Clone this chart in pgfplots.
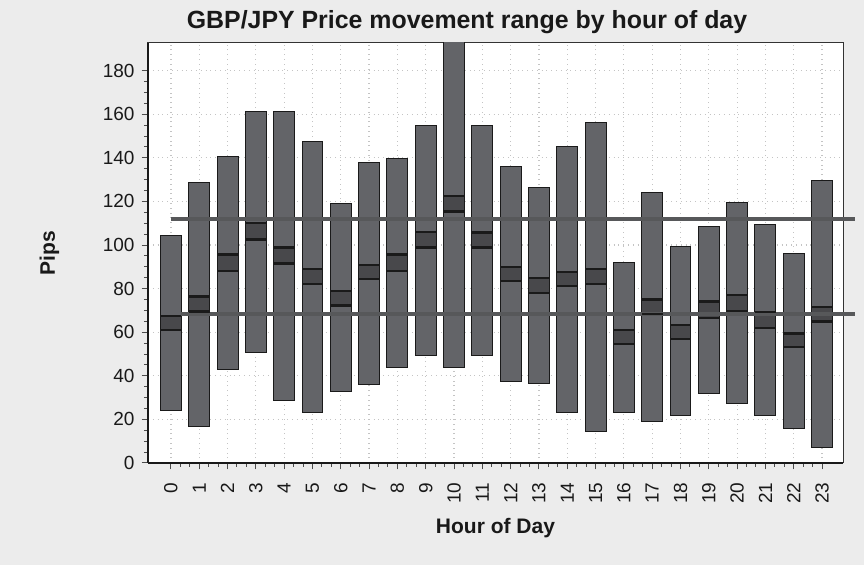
\documentclass[border=0pt]{standalone}
\usepackage{pgfplots}
\pgfplotsset{compat=1.18}
\usepackage{pgfplotstable}
\usepackage{fontspec}
\setmainfont{Liberation Sans}
\definecolor{bgc}{HTML}{ECECEC}
\definecolor{barc}{HTML}{636468}
\definecolor{bandc}{HTML}{48484B}
\definecolor{edgec}{HTML}{1A1A1A}
\definecolor{hlc}{HTML}{57585A}
\definecolor{gridc}{HTML}{C4C4C4}
\pgfplotstableread{
h lo bl bh hi
0 23.9 61.0 67.4 104.6
1 16.7 69.5 76.3 128.6
2 43.0 88.2 95.7 140.5
3 50.9 102.6 110.0 161.1
4 28.6 91.6 98.8 161.1
5 23.1 82.1 89.0 147.7
6 32.6 72.3 78.9 118.9
7 35.8 84.4 90.8 137.9
8 44.0 88.2 95.7 139.8
9 49.4 98.8 106.1 154.7
10 44.0 115.3 122.6 200
11 49.2 98.8 105.8 154.7
12 37.3 83.6 89.8 135.9
13 36.5 78.1 85.0 126.3
14 23.1 81.2 87.5 145.3
15 14.4 82.1 89.0 156.3
16 23.1 54.6 61.0 92.1
17 19.0 68.3 75.0 123.9
18 21.7 57.0 63.4 99.1
19 32.0 66.4 74.0 108.7
20 27.1 69.8 77.2 119.7
21 21.7 61.8 69.4 109.5
22 15.9 53.2 59.5 95.9
23 7.2 64.9 71.5 129.4
}\data
\begin{document}
\begin{tikzpicture}
\path[use as bounding box, fill=bgc] (-74pt,-51pt) rectangle (358pt,231.5pt);
\begin{axis}[
  at={(0,0)}, anchor=south west,
  scale only axis, width=347.5pt, height=210pt,
  xmin=-0.81, xmax=23.74, ymin=0, ymax=192.7,
  axis background/.style={fill=white},
  ybar stacked, bar width=0.74,
  xtick={0,...,23}, ytick={0,20,...,180},
  minor x tick num=2, minor y tick num=3,
  tick pos=left, tick align=outside,
  major tick length=3.2pt, minor tick length=2pt,
  every tick/.style={color=black!70, line width=0.5pt},
  grid=major, major grid style={dotted, color=gridc, line width=0.6pt},
  axis line style={color=black!80, line width=0.5pt},
  ticklabel style={font=\fontsize{9.5}{11}\selectfont, color=black!90},
  xticklabel style={yshift=-3pt, rotate=90, anchor=east},
  /pgf/number format/assume math mode=true,
  title={GBP/JPY Price movement range by hour of day},
  title style={at={(axis description cs:0.459,1.0071)}, anchor=base, font=\bfseries\fontsize{12.45}{14}\selectfont, color=black!90},
  xlabel={Hour of Day},
  xlabel style={at={(axis description cs:0.5,-0.169)}, anchor=base, font=\bfseries\fontsize{10.5}{12}\selectfont, color=black!90},
  ylabel={Pips},
  ylabel style={at={(axis description cs:-0.134,0.5)}, anchor=base, font=\bfseries\fontsize{10.5}{12}\selectfont, color=black!90},
]
\addplot[draw=none, fill=none] table[x=h, y=lo]{\data};
\addplot[fill=barc, draw=edgec, line width=0.5pt] table[x=h, y expr=\thisrow{bl}-\thisrow{lo}]{\data};
\addplot[fill=bandc, draw=edgec, line width=0.5pt] table[x=h, y expr=\thisrow{bh}-\thisrow{bl}]{\data};
\addplot[fill=barc, draw=edgec, line width=0.5pt] table[x=h, y expr=\thisrow{hi}-\thisrow{bh}]{\data};
\end{axis}
\begin{axis}[
  at={(0,0)}, anchor=south west,
  scale only axis, width=347.5pt, height=210pt,
  xmin=-0.81, xmax=23.74, ymin=0, ymax=192.7,
  clip=false,
  axis x line*=bottom, axis y line*=left,
  axis line style={-, line width=1.1pt, color=black!90},
  x axis line style={-}, y axis line style={-},
  xtick=\empty, ytick=\empty,
]
\addplot[only marks, mark=-, mark size=5.24pt, mark options={line width=1.2pt, color=edgec}] table[x=h, y=bl]{\data};
\addplot[only marks, mark=-, mark size=5.24pt, mark options={line width=1.2pt, color=edgec}] table[x=h, y=bh]{\data};
\addplot[no marks, line width=2pt, color=hlc] coordinates {(0,111.8) (24.16,111.8)};
\addplot[no marks, line width=2pt, color=hlc] coordinates {(0.37,68.2) (24.16,68.2)};
\end{axis}
\end{tikzpicture}
\end{document}
